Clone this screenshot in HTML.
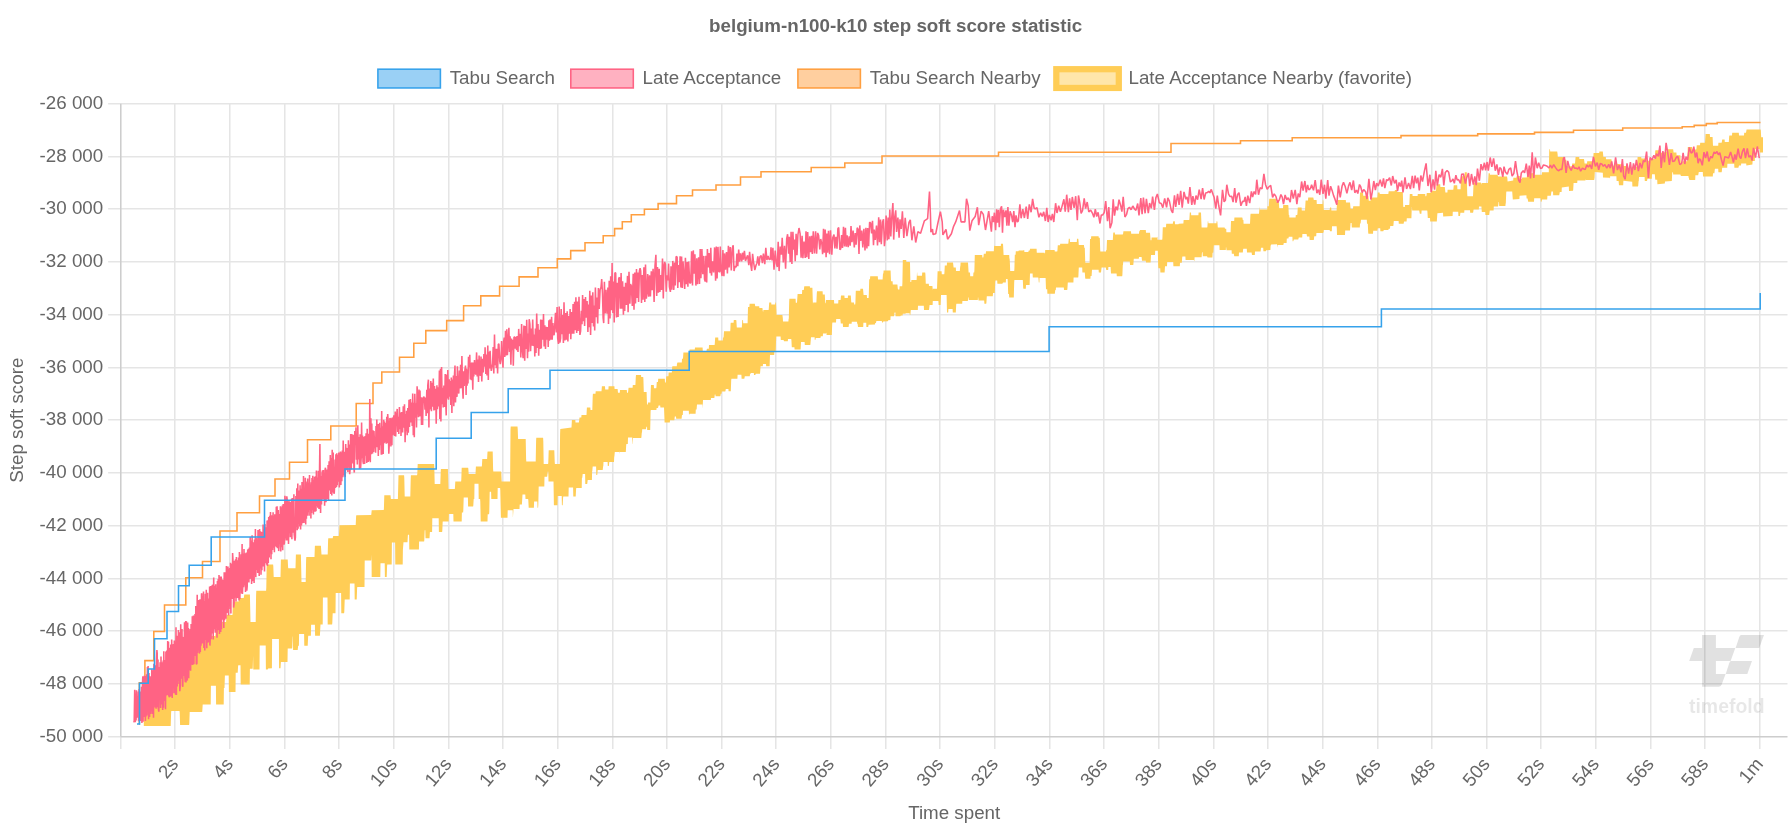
<!DOCTYPE html>
<html><head><meta charset="utf-8"><title>belgium-n100-k10 step soft score statistic</title>
<style>html,body{margin:0;padding:0;background:#fff;overflow:hidden}svg{display:block;will-change:transform;opacity:0.999}text{font-family:"Liberation Sans",sans-serif}</style>
</head><body>
<svg width="1792" height="832" viewBox="0 0 1792 832">
<rect width="1792" height="832" fill="#fff"/>
<path d="M120.781 103.8V749.1M174.781 103.8V749.1M229.781 103.8V749.1M284.781 103.8V749.1M338.781 103.8V749.1M393.781 103.8V749.1M448.781 103.8V749.1M502.781 103.8V749.1M557.781 103.8V749.1M612.781 103.8V749.1M666.781 103.8V749.1M721.781 103.8V749.1M775.781 103.8V749.1M830.781 103.8V749.1M885.781 103.8V749.1M939.781 103.8V749.1M994.781 103.8V749.1M1049.781 103.8V749.1M1103.781 103.8V749.1M1158.781 103.8V749.1M1213.781 103.8V749.1M1267.781 103.8V749.1M1322.781 103.8V749.1M1377.781 103.8V749.1M1431.781 103.8V749.1M1486.781 103.8V749.1M1540.781 103.8V749.1M1595.781 103.8V749.1M1650.781 103.8V749.1M1704.781 103.8V749.1M1759.781 103.8V749.1M108.1 736.781H1787.5M108.1 683.781H1787.5M108.1 630.781H1787.5M108.1 578.781H1787.5M108.1 525.781H1787.5M108.1 472.781H1787.5M108.1 419.781H1787.5M108.1 367.781H1787.5M108.1 314.781H1787.5M108.1 261.781H1787.5M108.1 208.781H1787.5M108.1 156.781H1787.5M108.1 103.781H1787.5" stroke="rgba(0,0,0,0.1)" stroke-width="1.5625" fill="none"/>
<path d="M120.781 103.8V736.6M120.6 736.781H1787.5" stroke="rgba(0,0,0,0.1)" stroke-width="1.5625" fill="none"/>
<g id="wm" fill="rgba(0,0,0,0.118)">
<path d="M1702.1 634.9H1715.9V648H1735.3L1730.6 661H1715.9V673.9H1725.6L1721.6 684.8Q1720.8 686.8 1718.6 686.8H1702.1V661H1689.2L1693.8 648H1702.1Z"/>
<path d="M1741.2 634.9H1764L1759.2 648H1735.6L1739.2 637.2Q1740 634.9 1741.2 634.9Z"/>
<path d="M1731 661H1752L1747.3 673.9H1725.7L1729.2 663.2Q1730 661 1731 661Z"/>
<text x="1689" y="712.6" font-weight="bold" font-size="20" textLength="75.6" lengthAdjust="spacingAndGlyphs" fill="rgba(0,0,0,0.095)">timefold</text>
</g>
<g fill="none" stroke-linejoin="bevel">
<path d="M143.8 716L146.5 716L146.7 713L147.1 700L153.5 700L153.9 690L160.3 690L160.7 683.1L160.9 681.5L166.5 681.5L166.7 679.9L167.1 673L172.7 673L172.9 672.5L173.3 665.5L179.1 665.5L179.5 658.5L179.7 658L185.3 658L185.7 652.7L185.9 651.5L191.5 651.5L191.7 650.3L192.1 645L197.7 645L197.9 644.8L198.3 641.5L204.1 641.5L204.5 638.2L204.7 638L209.9 638L210.5 636L215.3 636L215.5 634.5L215.9 629L220.7 629L221.1 622.9L221.3 622L225.9 622L226.1 621.7L226.5 615L232.5 615L232.9 601.6L238.7 601.6L239.1 598.7L239.3 598L243.7 598L243.9 597.3L244.3 594.4L249.9 594.4L250.5 622L255.7 622L256.1 594.7L256.3 590.8L266.1 590.8L266.3 587.5L266.7 564.5L273.1 564.5L273.3 566.1L273.7 577L280.5 577L280.9 559.5L287.7 559.5L288.1 567.2L288.3 568.2L295.5 568.2L295.9 554.5L300.9 554.5L301.5 582L305.7 582L306.1 560.1L306.3 557L314.5 557L314.9 545.8L320.9 545.8L321.5 554.5L327.7 554.5L328.1 540.3L328.3 538.2L332.7 538.2L333.1 536.3L333.3 536L338.9 536L339.5 525.2L355.7 525L356.1 516.5L356.3 515.2L371.1 515L371.3 514.4L371.7 510.2L383.7 510L383.9 509.1L384.3 495.2L390.5 495.2L390.9 499L397.9 499L398.5 475.2L404.1 475.2L404.3 477.9L404.7 496.5L410.3 496.5L410.7 479.2L410.9 475.2L417.1 475.2L417.3 473.8L417.7 464L434.1 464L434.3 466.5L434.7 484L440.3 484L440.7 471.8L440.9 469L447.9 469L448.5 489L454.7 489L454.9 488.5L455.3 481.5L461.1 481.5L461.3 479.8L461.7 467.8L468.1 467.8L468.3 468.5L468.7 474L475.5 474L475.9 466.5L481.7 466.5L481.9 466L482.3 459L487.1 459L487.5 452L487.7 451.5L492.7 451.5L493.1 469L493.3 471.5L501.1 471.5L501.3 472.7L501.7 481.5L510.1 481.5L510.5 429.9L510.7 426.5L517.5 426.5L517.7 428.8L518.1 439L525.7 439L526.1 458.7L526.3 461.5L535.7 461.5L536.1 440.7L536.3 437.8L543.1 437.8L543.3 441L543.7 464L548.1 464L548.3 462.3L548.7 450.2L554.3 450.2L554.7 461.4L554.9 464L559.7 464L560.1 433.4L560.3 429L571.5 427.5L571.9 420L575.3 420L575.5 422.4L578.9 422.4L579.5 417.4L581.3 417.4L581.5 415L586.5 415L586.9 407.5L590.3 407.5L590.5 410L592.3 410L592.7 396.8L592.9 393.8L595.5 393.8L595.7 391.2L601.5 391.2L601.9 386.3L605 386.2L605.2 389.6L608.4 389.6L608.6 386.2L614.4 386.2L614.6 388.9L617.6 388.9L618 392.7L619.8 392.7L620 390L626.8 390L627 392.7L628 392.7L628.6 387.7L632.6 387.7L632.8 385L635.4 385L635.8 376.9L636 375L641 375L641.2 377.1L643.2 377.1L643.4 378.9L643.8 392.1L646.6 392.1L647 404.6L647.8 404.6L648 402.5L650.4 402.5L650.8 388.3L651 385L653.8 385L654 388.2L656.2 388.2L656.4 387.4L656.8 381.9L658 381.9L658.2 378.8L664.8 378.8L665 382.5L665.8 382.5L666.2 377L666.4 376.3L668.4 376.3L668.6 372.5L671.8 372.5L672.2 367L672.4 366.2L676.8 366.2L677 363.4L677.2 363.4L677.4 362.5L681.8 362.5L682 358.8L682.8 358.8L683 358.4L683.4 352.5L689 352.5L689.6 349.4L694.8 349.4L695 347.5L702.6 347.5L702.8 351.3L706.4 351.3L706.8 349.2L707 348.8L708.8 348.8L709 345L714.6 345L714.8 343.6L715.2 337.5L718.2 337.5L718.4 340.4L722.8 340.4L723 337.5L723.6 337.5L724 331.2L730.2 331.2L730.4 329L730.6 323.4L730.8 322.7L733.6 322.7L733.8 320L736.2 320L736.4 320.9L736.8 327.5L741.8 327.5L742.2 320.9L742.4 320L743 320L743.2 323.2L747.6 323.2L748 307L749.4 307L749.6 303.8L754.8 303.8L755.2 305.9L755.4 306.2L759.2 306.2L759.4 308.1L762.4 308.1L762.8 311.1L763 311.8L763.2 311.8L763.4 310L768.6 310L768.8 308.6L769.2 302.5L771.2 302.5L771.4 304.5L775.2 304.5L775.4 302.5L776 302.5L776.6 315L782.4 315L782.8 318L783 321.4L788.4 321.4L788.6 318.8L788.8 318.8L789.2 301.2L789.4 298.8L795.6 298.8L795.8 302.7L797 302.7L797.6 294L802 294L802.2 290L803.8 290L804.2 286.7L804.4 286.2L809.8 286.2L810 287.7L812.4 287.7L812.8 300.9L813 304L813.2 302.5L816.4 302.5L816.8 293.4L817 291.2L822.6 291.2L822.8 294.5L824.8 294.5L825.2 302.1L825.4 303.2L825.8 303.2L826 300L834 300L834.2 303.5L838.2 303.5L838.4 300L840.6 300L841 295.5L844.4 295.5L844.6 298.1L847.8 298.1L848 295.5L850.8 295.5L851.2 301.6L851.4 302.5L854 302.5L854.2 304.5L855.2 304.5L855.4 302.8L855.8 290.8L860.2 290.8L860.4 288.8L863 288.8L863.6 295L866.8 295L867 298L868.6 298L868.8 294.5L869.2 279.3L870 279.3L870.2 276.2L877.8 276.2L878 279.4L882.6 279.4L883 273.6L883.4 273.6L883.6 270.5L890.6 270.5L891 281.2L892.6 281.2L892.8 284.4L897.4 284.4L897.8 288.5L898 289.4L899.4 289.4L899.6 286.2L902.2 286.2L902.4 283L902.8 260L906.2 260L906.4 261.9L909.8 261.9L910 263.1L910.4 281.9L911.2 281.9L911.4 280L916.6 280L917 272.5L917.2 272.5L917.4 275.8L922 275.8L922.2 272.5L925.2 272.5L925.4 273.9L925.8 283.8L928.8 283.8L929 286L932.4 286L932.8 290.1L933 288.8L937 288.8L937.6 271.2L941.6 271.2L941.8 274.2L944.2 274.2L944.4 273.2L944.8 265.5L946.8 265.5L947 262.5L953 262.5L953.6 267.5L955.8 267.5L956 271L959.8 271L960.2 266.6L960.4 266L960.6 262.5L968 262.5L968.6 272.5L970 272.5L970.2 276.3L973.2 276.3L973.4 272.5L974.2 272.5L974.4 270.3L974.8 255L982.2 255L982.4 257.6L983.2 257.6L983.4 257.1L983.8 253.8L985.8 253.8L986 251.2L993.8 251.2L994.2 244.7L994.4 246.1L1000.8 246.1L1001 243.8L1003 243.8L1003.6 255L1009.2 255L1009.4 258.5L1009.6 258.5L1009.8 260.8L1010.2 271L1014.2 271L1014.4 268.9L1014.8 254.7L1015.6 254.7L1015.8 251.2L1018.4 251.2L1018.8 250.6L1023.4 250.5L1023.8 250L1024.2 250L1024.4 251.9L1028.2 251.9L1028.4 251.7L1028.8 250.6L1029.8 250.6L1030 248.8L1036.6 248.8L1036.8 252.7L1044.6 252.7L1045 254L1045.2 250L1054.6 250L1054.8 251.6L1057.2 251.6L1057.4 250.8L1057.8 245.3L1060 245.3L1060.2 243.8L1068.2 243.8L1068.4 243.1L1068.8 238.8L1069.8 238.8L1070 242.1L1076.8 242.1L1077 238.8L1078.2 238.8L1078.4 239.5L1078.8 245L1084 245L1084.2 247.7L1084.8 247.7L1085.2 260.9L1085.4 262.7L1089.6 262.7L1090 239L1091 239L1091.2 236.2L1098.6 236.2L1098.8 237.7L1099.8 237.7L1100.2 249.7L1100.4 251.4L1106 251.4L1106.2 250L1106.6 250L1107 240L1112.8 240L1113.2 233.4L1113.4 232.5L1114.8 232.5L1115 234.4L1122.8 234.4L1123.2 233.3L1123.4 231.2L1131 231.2L1131.2 233.7L1139 233.7L1139.2 231.2L1139.6 231.2L1140 230L1145.8 230L1146 232.7L1150 232.7L1150.6 240.2L1151.4 240.2L1151.6 237.5L1157 237.5L1157.4 236.6L1157.6 239.7L1162.2 239.7L1162.4 238.2L1162.8 227.2L1166 227.2L1166.2 223.8L1172.8 223.8L1173.2 221.6L1173.4 221.2L1174.8 221.2L1175 224.3L1178.4 224.2L1178.8 223.7L1183.4 223.6L1183.6 220.2L1183.8 220L1189.2 220L1189.4 219.1L1189.8 212.5L1191 212.5L1191.2 215.2L1198.4 215.2L1198.6 212.5L1201 212.5L1201.6 227.5L1207.2 227.5L1207.4 226.7L1207.8 221.2L1208.2 221.2L1208.4 223.3L1216.4 223.3L1216.6 221.2L1217.2 221.2L1217.4 222L1217.8 227.5L1224.6 227.5L1225 228.8L1226.2 228.8L1226.4 232.2L1230.6 232.2L1231 220.9L1234.2 220.9L1234.4 217.5L1242.2 217.5L1242.4 217.8L1242.8 220L1243.4 220L1243.6 223.7L1250 223.7L1250.4 215.3L1250.6 213.8L1259 213.8L1259.6 206.2L1259.8 209.6L1267.2 209.6L1267.4 206.2L1268.8 206.2L1269.2 199.7L1269.4 198.8L1276.4 198.8L1276.6 202L1278.8 202L1279.2 207.5L1279.4 208.3L1283 208.3L1283.2 205L1288.2 205L1288.4 206.3L1288.8 215L1289.2 215L1289.4 217.6L1295.6 217.6L1295.8 215L1297.2 215L1297.4 214.1L1297.8 207.5L1301.6 207.5L1301.8 210.6L1305 210.6L1305.6 200.6L1308 200.6L1308.2 197.5L1313.2 197.5L1313.4 197.8L1313.8 200L1316.6 200L1316.8 203.9L1322.6 203.9L1322.8 200L1323.2 200L1323.4 201.3L1323.8 210L1329.6 210L1330 207.5L1331.2 207.5L1331.4 210.6L1336.6 210.6L1337 203.1L1337.6 203.1L1337.8 200L1345.8 200L1346 202.4L1350 202.4L1350.6 208.7L1353 208.7L1353.2 206.2L1359.6 206.2L1360 192.5L1363 192.5L1363.2 195.7L1368.2 195.7L1368.4 196.3L1368.8 200.7L1370.6 200.7L1370.8 197.5L1377.2 197.5L1377.4 196.9L1377.8 192.5L1379.6 192.5L1379.8 194L1388.2 194L1388.4 193.8L1388.6 191.7L1388.8 191.2L1394.6 191.2L1395 190L1397 190L1397.2 192.1L1402.8 192.1L1403.2 205.2L1403.4 207.1L1404.8 207.1L1405 205L1409.2 205L1409.4 203.6L1409.8 194.1L1412.4 194.1L1412.6 196L1417.6 196L1417.8 194.1L1425.2 194.1L1425.4 196.2L1426.2 196.2L1426.4 195.7L1426.8 192.9L1430.6 192.9L1430.8 190.8L1436 190.8L1436.6 184.2L1440.2 184.2L1440.4 186.9L1444.8 186.9L1445.4 192.4L1447.4 192.4L1447.6 189.7L1453.2 189.7L1453.4 189.1L1453.8 185.3L1457.2 185.3L1457.4 189.3L1460.6 189.3L1461 176.2L1464.6 176.2L1464.8 172.2L1466.8 172.2L1467.2 193.3L1467.4 196.3L1473 196.3L1473.6 182.6L1480.8 182.6L1481.4 184.7L1481.6 183.1L1488 183.1L1488.6 173.3L1489.8 173.3L1490 174.8L1497.6 174.8L1497.8 176.1L1498 176.2L1498.2 176.6L1507 176.6L1507.4 178.5L1507.6 181.4L1513.2 180.5L1513.4 177.8L1516.2 177.7L1516.4 177.6L1516.8 176.1L1519.8 176.1L1520 179L1521.8 179L1522.2 177.5L1526.8 177.4L1527 174.4L1527.2 174.4L1527.8 173.3L1532.6 173.3L1532.8 173.1L1533 172.5L1533.2 174.7L1541.8 174.7L1542 172.2L1548.8 172.2L1549.2 152.1L1549.4 149.2L1550 149.2L1550.2 151.6L1557.2 151.6L1557.6 154L1557.8 156.9L1564.4 156.9L1564.6 159.8L1566.2 159.8L1566.4 160.6L1566.8 166.3L1572 166.3L1572.2 163.4L1575 163.4L1575.6 156.9L1579.2 156.9L1579.4 159.1L1584 159.1L1584.6 163.5L1587 163.5L1587.2 161.3L1593 161.3L1593.6 152.9L1599.2 152.9L1599.4 151.4L1602.8 151.4L1603.4 156.9L1605.8 156.9L1606 159.3L1611.4 159.3L1611.6 160.1L1612 165.8L1613.8 165.8L1614 163.4L1623.4 164.5L1623.6 166L1627.2 166L1627.4 166.3L1627.8 168.2L1631.4 168.2L1631.6 166.7L1637 166.7L1637.6 156.9L1641.2 156.9L1641.4 158.5L1646.4 158.5L1646.6 158.8L1647 160.7L1650 160.7L1650.2 159.1L1654.8 159.1L1655.2 151.4L1655.4 150.3L1659.6 150.3L1659.8 152.9L1666.4 152L1666.6 149.3L1673 149.2L1673.2 149.6L1673.6 152.5L1676.4 152.5L1676.6 155.3L1680.4 155.3L1680.8 163L1681 164.1L1682.2 164.1L1682.4 161.3L1687.2 161.3L1687.4 159.5L1687.8 147L1692 147L1692.2 149.6L1696.2 149.6L1696.4 149.1L1696.8 145.3L1700 145.3L1700.2 142.7L1705 142.7L1705.6 133.9L1709.8 133.9L1710 136.9L1712.6 136.9L1713 145.7L1718.2 145.7L1718.4 142.7L1721.6 142.7L1721.8 142.3L1722.2 139.4L1724.6 139.4L1724.8 142L1728.8 142L1729.2 136.2L1729.4 135.4L1732 135.4L1732.2 132.8L1738.8 132.8L1739 135.6L1744 135.6L1744.2 132.8L1746 132.8L1746.6 129.5L1760.6 129.5L1760.8 130.5L1761.2 137.2L1763 137.2L1763 152.5L1759.8 152.5L1759.6 149.1L1755.4 149.1L1755.2 150.6L1754.8 161.1L1752.6 161.1L1752.4 164.5L1746.4 165.5L1746.2 163.5L1741.2 163.5L1741 165.6L1739 165.6L1738.4 167.8L1734.4 167.8L1734.2 163.8L1727.4 163.8L1727.2 167.8L1722.2 167.8L1721.8 171.6L1721.6 172.2L1718.4 172.2L1718.2 168.8L1715 168.8L1714.8 169.4L1714.4 173.2L1713 173.2L1712.8 176.6L1703 176.6L1702.8 171.9L1698.8 171.9L1698.2 175.2L1695.4 175.2L1695.2 179.9L1689.4 179.9L1689.2 179.6L1688.8 177.7L1688.6 177.7L1688.4 175.9L1681 175.9L1680.8 175.5L1680.6 175.6L1680.4 174.4L1673.2 174.4L1673 172.2L1672.4 172.2L1672.2 173.3L1671.8 180.9L1665 181.4L1664.8 183.6L1657.4 184.2L1657.2 179.7L1655.4 179.7L1655.2 179.1L1654.8 174.3L1652 174.3L1651.8 178.8L1647.6 178.8L1647.4 179.1L1647 181L1644.8 181L1644.6 176.9L1639 176.9L1638.8 181L1638.6 181L1638.2 185.7L1638 186.4L1632.4 186.4L1632.2 181.8L1623.4 180.7L1623.2 185.3L1619 185.3L1618.6 181L1616.6 181L1616.4 176.3L1610.4 176.3L1610.2 175.8L1610 178.9L1609.8 177.7L1603 177.4L1602.8 172.7L1594.8 171.9L1594.6 177.4L1594.2 179.9L1585.8 179.9L1585.6 179L1585.4 180.6L1577.4 180.6L1577.2 183.1L1573.6 183.1L1573.2 189.8L1573 190.8L1569 191L1568.8 186.5L1561.8 187.4L1561.6 191.9L1559.8 191.9L1559.2 195.2L1553.2 195.2L1553 191.4L1551.4 191.4L1550.8 195.7L1547.4 195.7L1547.2 199.5L1542 199.5L1541.6 201.4L1541.4 201.7L1540.8 201.7L1540.6 198.2L1534.2 198.2L1534 201.7L1528.2 201.7L1527.6 198.4L1526.6 198.4L1526.4 195.2L1519.6 195.8L1519.4 198.9L1512.8 199.5L1512.2 191.5L1506.4 191.5L1506.2 193L1505.8 203.5L1505.6 203.5L1505.4 206.1L1499.2 206.1L1499 202L1498.6 202L1498.2 205.8L1498 206.4L1493.8 206.4L1493.6 210.5L1489.8 210.5L1489.2 214.9L1485.4 214.9L1485.2 212L1481.8 212L1481.4 206.5L1479 206.5L1478.8 209.4L1473.6 209.4L1473.2 212.3L1473 212.7L1470.2 212.7L1470 210.2L1464.4 210.2L1464.2 212.7L1460.4 212.7L1460 216L1458.4 216L1458.2 211.7L1452.8 211.7L1452.6 216L1443.2 216.6L1443 212.8L1437.4 213.2L1436.8 221.4L1430.2 221.4L1430 218.1L1427.8 218.1L1427.4 211.5L1427.2 210.5L1421.6 210.5L1421.4 213.8L1419.8 213.8L1419.2 210.5L1412.2 210.5L1412 207.3L1411.8 207.3L1411.4 218.2L1406.8 218.2L1406.6 221.4L1404.2 221.4L1404 221.7L1403.6 223.8L1398.8 223.8L1398.6 221.1L1393.8 221.1L1393.4 225.5L1393.2 226.1L1390.2 226.1L1390 228.8L1388.8 228.8L1388.4 229.8L1388.2 230L1383.8 230L1383.4 231.1L1383.2 231.2L1380.4 231.2L1380.2 228.2L1377.8 228.2L1377.4 230.3L1377.2 230.7L1373.2 230.7L1373 233.8L1368.4 233.8L1368.2 232.5L1367.8 223.8L1367 223.8L1366.8 219.8L1361 219.8L1360.6 223.5L1360 223.5L1359.8 227.5L1351.8 227.5L1351.6 223.1L1350.6 223.1L1350 230.6L1345.2 230.6L1345 235L1337 235L1336.8 228.2L1336.6 226.3L1332 226.3L1331.8 231.2L1330 231.2L1329.6 230L1323.8 230L1323.6 232.3L1323.4 232.1L1323.2 232.9L1316.4 232.9L1316.2 236.2L1314.4 236.2L1314.2 236.7L1313.8 240L1309.6 240L1309.4 236.4L1307 236.4L1306.6 233.9L1302.4 233.9L1302.2 237.5L1298.8 237.5L1298.4 239.1L1298.2 239.4L1293.8 239.4L1293.4 241L1293.2 241.2L1292.6 241.2L1292.4 236.7L1288.8 236.7L1288.4 238.4L1288.2 238.6L1286.8 238.6L1286.6 243.1L1283.8 243.1L1283.4 244.8L1283.2 245L1277.6 245L1277.2 247.8L1277 244.3L1271.2 244.4L1270.8 245.5L1270.6 245.5L1270.4 250L1266.2 250.2L1265.8 251.2L1263.4 251.2L1263.2 247.7L1261 247.7L1260.6 251.4L1255 251.4L1254.8 255L1252 255L1251.6 252.5L1247 252.5L1246.8 248.7L1243.4 248.7L1243.2 249.1L1242.8 252.4L1239 252.4L1238.8 256.2L1234.4 256.2L1234.2 255.9L1233.8 253.8L1231.8 253.8L1231.6 250.3L1226.6 250.3L1226 246.5L1225.8 250L1219.6 250L1219.4 245.2L1213.8 245.2L1213.4 251.7L1213.2 252.7L1212.6 252.7L1212.4 257.5L1207.6 257.5L1207 256.2L1202.8 256.2L1202.6 252.3L1202 252.3L1201.6 257.3L1194.6 257.3L1194.4 261.2L1194.2 261.1L1193.8 260L1185.6 260L1185.4 256.6L1182.4 256.6L1182.2 257.4L1181.8 262.8L1180 262.8L1179.8 266.2L1173.4 266.2L1173.2 261.9L1167.2 261.9L1167 266.2L1165 266.2L1164.6 272.5L1160.4 272.5L1160.2 268.2L1158.4 268.2L1158.2 266L1157.8 250.7L1155.2 250.7L1155 255L1151 255L1150.6 262.5L1146 262.5L1145.8 260.7L1142 260.7L1141.6 256.9L1139 256.9L1138.8 258.8L1133.8 258.8L1133.4 264.2L1133.2 265L1130 265L1129.8 261.5L1123.2 261.5L1123 265L1122.8 265L1122.4 274.8L1122.2 276.2L1116.8 276.2L1116.6 273.4L1111 273.4L1110.6 267.1L1108.4 267.1L1108.2 270L1106.4 270L1106.2 269.7L1105.8 267.5L1101.6 267.5L1101 272.5L1098.8 272.5L1098.6 269.7L1092 269.7L1091.6 276L1090.6 276L1090.4 278.8L1085.4 278.8L1085.2 278L1084.8 272.5L1082.4 272.5L1082.2 267.6L1078.8 267.6L1078.4 276.3L1078.2 277.6L1073.6 277.6L1073.4 282.5L1067.8 282.5L1067.4 289.1L1067.2 290L1064 290L1063.8 287.6L1056 287.6L1055.8 290L1055.4 290L1055.2 290.5L1054.8 293.8L1047.4 293.8L1047.2 289.3L1046 289.3L1045.6 278.1L1039.6 278.1L1039.4 282.5L1038.8 282.5L1038.4 278.1L1038.2 277.5L1032.8 277.5L1032.6 273.6L1030 273.6L1029.6 284.9L1026 284.9L1025.8 288.8L1023.4 288.8L1023.2 287.7L1022.8 280L1014.4 280L1014.2 282.2L1013.8 297.5L1009.2 297.5L1009 294.1L1008.2 294.1L1007.8 281.9L1007.6 279.1L1006 279.1L1005.8 282.5L1003 282.5L1002.4 283.8L997.4 283.8L997.2 280.5L995.4 280.5L995.2 282L994.8 293L993 293L992.8 296.2L986.8 296.2L986.4 302.8L986.2 303.8L984.4 303.8L984.2 300.5L978.6 300.5L978 296.7L977.8 300L968.8 300L968.6 297.2L968.4 297.2L968.2 297.7L967.8 301L962.4 301L962.2 303.8L956.4 303.8L956.2 304.8L955.8 312.5L952.8 312.5L952.6 308.9L948.4 308.9L948.2 312.5L947 312.5L946.6 295L941 295L940.6 305L938.6 305L938.4 301.1L932.8 301.1L932.6 305L929.6 305L929 310L924 310L923.8 305.8L918 305.8L917.8 310L910.8 310L910.4 314.4L910.2 315L909.8 315L909.6 313.2L905.8 313.2L905.4 313.8L902.8 313.8L902.6 315.6L900.8 315.6L900.4 316.2L895.6 316.2L895.4 312.5L894.6 312.5L894 316.3L890.6 316.3L890.4 320L888.2 320.2L887.8 321.2L883.2 321.4L882.8 322.5L882 322.5L881.8 320.9L876.4 320.9L876 322.7L875.8 322.9L875.2 322.9L875 324.5L868.6 324.7L868.2 327L866.4 327L866.2 322.8L863.4 322.8L863.2 327L858 327L857.6 323.8L857.2 323.8L857 321.8L851.8 321.8L851.6 323.8L849 323.8L848.6 327L843 327L842.8 323.5L840.8 323.5L840.4 319.6L840.2 319L836.2 319L836 322.5L832.4 322.5L832.2 324.1L831.8 335L826.6 335L826.4 332.4L826 333.5L823 333.6L822.8 336.2L820.8 336.2L820.4 337.9L820.2 338.1L815.8 338.1L815.4 339.8L815.2 340L814.8 340L814.6 337.3L811 337.3L810.4 344.4L810.2 345L804.8 345L804.6 342.1L801 342.1L800.6 349.5L794.6 349.5L794.4 347.3L791.8 347.3L791.4 340.1L791.2 339.1L788 339.1L787.8 341.2L784 341.2L783.6 340L780.8 340L780.6 336.6L776.2 336.6L775.8 348.8L775.6 351.6L774.4 351.6L774.2 355L770 355L769.6 366.2L766.2 366.2L766 364L763 364L762.8 366.2L760.6 366.2L760 373.8L755.8 373.8L755.4 374.8L755.2 375L754 375L753.8 372.9L750.8 372.9L750.4 374L750 374.2L749.8 376.2L744.8 376.2L744.4 378.4L744.2 378.8L741.6 378.8L741.4 374.8L737.6 374.8L737.4 378.8L731.4 378.8L731.2 380.3L730.8 391.2L728.6 391.2L728.4 389L725.8 389L725.4 391.2L725.2 391.5L721.8 391.5L721.6 393.8L720.8 393.8L720.4 395.9L720.2 396.2L715.6 396.2L715.4 394.4L714.8 394.4L714.4 397.7L714.2 398.1L711 398.1L710.8 400L703 400L702.6 408.7L702.4 404.6L697 404.6L696.6 409.6L695.8 409.6L695.6 413.8L689.6 413.8L689 415L688.8 410.7L683 410.7L682.8 415L682 415L681.6 418.7L676.2 418.8L676 416.4L674.8 416.4L674.4 419.7L674.2 420.2L670 420.2L669.8 422.5L664.6 422.5L664 407.5L660.4 407.5L660.2 405.5L658.6 405.5L658 408L656.6 408L656.4 410L650.8 410L650.6 411.2L650.2 430L647.2 430L647 426.7L646.4 426.7L646 429.1L645.8 429.2L642.2 429.2L642 432.5L641.8 432.5L641.4 437.3L641.2 438L633 438L632.6 444L632.4 444L632.2 437.6L628 437.6L627.8 444L626.4 444L626.2 445L625.8 452L619.8 452L619.6 453.9L619.4 451.3L619.2 451.9L614.8 451.9L614.4 456.3L614.2 456.9L614 462L609.4 462L609.2 462.5L608.8 466L607.8 466L607.6 462L603.5 462L603.3 466L603.1 466.5L602.7 470L597.7 470L597.3 474.4L597.1 475L596.3 475L596.1 466.5L592.7 466.5L592.3 470.9L592.1 471.5L591.9 480L587.7 480L587.3 483.5L587.1 484L585.3 484L585.1 474.1L582.7 474.1L582.3 477.6L582.1 478.1L581.9 478.1L581.7 488L576.3 488L576.1 489.1L575.7 496.5L573.3 496.5L573.1 487.4L568.7 487.4L568.5 496.5L563.3 496.5L563.1 497.6L562.7 505.2L561.9 505.2L561.7 496L557.7 496L557.5 505.2L553.9 505.2L553.5 481.5L548.5 481.5L548.3 471.7L547.7 471.7L547.3 476.1L547.1 476.7L544.5 476.7L544.3 486.5L538.7 486.5L538.3 505.1L538.1 507.8L537.5 507.8L537.3 501.5L534.1 501.5L533.9 507.8L528.7 507.8L528.3 500.1L528.1 499L525.5 499L525.3 494.6L522.5 494.6L521.9 504.6L519.7 504.6L519.5 509L513.5 509L512.9 517.8L512.7 510.3L507.7 510.3L507.5 517.8L500.9 517.8L500.3 490.2L500.1 487.9L497.7 487.9L497.5 499L491.3 499L491.1 491.8L489.7 491.8L489.3 511.5L489.1 514.3L487.7 514.3L487.5 521.5L480.7 521.5L480.3 501.8L480.1 499L478.7 499L478.5 483.7L474.5 483.7L474.3 499L473.7 499L473.3 505.6L473.1 506.5L468.1 506.5L467.9 497.4L463.7 497.4L463.3 510.6L463.1 512.4L461.9 512.4L461.7 521.5L453.5 521.5L453.3 514L448.9 514L448.7 521.5L442.7 521.5L442.3 530.7L442.1 532L438.9 532L438.7 518.3L432.3 518.3L432.1 532L429.9 532L429.5 538.2L425.5 538.2L425.3 530.3L424.7 530.3L424.3 540.2L424.1 541.6L419.1 541.6L418.9 549.5L409.3 549.5L409.1 534.7L407.9 534.7L407.5 542.2L403.5 542.2L402.9 549.7L402.7 564.5L395.3 564.5L395.1 542.4L391.9 542.4L391.7 564.5L387.3 564.5L387.1 566.1L386.7 577L384.9 577L384.7 563.3L380.5 563.3L380.3 577L371.7 577L371.5 554.4L371.3 559.4L371.1 560.6L364.7 560.6L364.5 587L357.3 587L357.1 588.6L356.7 599.5L354.7 599.5L354.5 583.6L349.9 583.6L349.7 599.5L344.7 599.5L344.3 611.5L344.1 613.2L341.3 613.2L341.1 593L335.7 593L335.5 613.2L332.7 613.2L332.3 623.1L332.1 624.5L327.7 624.5L327.5 597.6L322.9 597.6L322.7 624.5L320.5 624.5L319.9 635.8L315.1 635.8L314.9 624.7L311.1 624.7L310.9 635.8L308.3 635.8L308.1 637L307.7 645.8L304.3 645.8L304.1 634.1L299.1 634.1L298.9 645.8L298.3 645.8L298.1 646.3L297.7 650L293.1 650L292.9 636.4L292.7 636.4L292.3 646.9L292.1 648.4L287.7 648.4L287.5 662L280.9 662L280.5 668.2L279.1 668.2L278.9 638.9L272.1 638.9L271.9 668.2L268.1 668.4L267.7 669.5L265.9 669.5L265.7 645.5L259.7 645.5L259.5 669.5L253.3 669.5L253.1 655.7L252.7 668.8L249.9 668.8L249.7 684.5L240.7 684.5L240.5 665.2L238.3 665.2L238.1 666.1L237.7 672.7L235.7 672.7L235.5 692L228.9 692L228.7 675.4L224.9 675.4L224.5 687.9L223.9 687.9L223.7 704.5L216.1 704.5L215.9 685.7L210.9 685.7L210.7 704.5L202.7 704.5L202.3 711.1L202.1 712L189.7 712L189.3 723.4L189.1 725L180.1 725L179.7 712.7L179.5 711L171.3 711L171.1 712.9L170.7 726L143.8 726Z" fill="#ffcd56" stroke="none"/>
<path d="M138.9 724H139.3V682.8H144.9V660.6H153.8V631.5H164.5V605H185.8V577.8H202.5V561.5H220V531H237V512.8H259.5V496H275V479H289.5V462.2H307.5V439.8H330.8V426H356.2V403.5H373V383H381.8V372H399.5V357.2H413.8V343.2H425.8V330.6H446.7V320.6H463.6V305.7H480.8V295.9H499.6V286.2H519.1V276.9H538V267.8H557.3V258.9H570.7V250.6H585V242.7H603.2V235.8H614.6V228.6H622.3V221.8H631.3V214.8H644.4V209.2H658.1V203.6H676.5V195.8H692.5V190H716V185H740.5V177H761V171.8H811.2V167.5H844.8V163H882V156H998.5V152.3H1171V143.5H1240.5V140.8H1292.2V137.8H1401V135.6H1477.7V133.9H1534.5V132.4H1573.5V130.2H1622.7V128H1682.2V126.7H1694.2V125.4H1706.3V123.6H1717.2V122.5H1760.5" stroke="#ff9f40" stroke-width="1.5625" stroke-linejoin="miter"/>
<path d="M133.8 722.4L134.2 720.9L134.7 689.8L135 696.9L135.3 722.3L135.7 695.6L136.1 720.5L136.5 690.2L137 717.8L137.4 696.1L137.8 717.8L138.3 691.6L138.6 721.2L139.1 689.1L139.6 719.6L140 692.7L140.3 721.1L140.7 691.4L141 716.9L141.5 686.7L141.9 723.1L142.3 689.4L142.8 676.4L143.1 721.8L143.5 677.5L143.9 717.1L144.2 675.7L144.6 713.2L145 682.1L145.4 720.9L145.8 676.1L146.1 716.5L146.5 674.2L146.9 715.5L147.4 667L147.8 711.8L148.1 666.1L148.6 719.3L149 672.9L149.3 714.3L149.6 716.9L150.1 676.3L150.5 714L150.8 707.3L151.3 711.1L151.8 669.2L152.3 713.9L152.6 709.6L153.2 670.2L153.5 717.8L153.9 663.7L154.4 704.4L154.9 669.7L155.2 707.5L155.6 665.2L156.1 708.8L156.5 662.2L156.9 650L157.2 653.3L157.6 707.3L158 659.4L158.3 708.1L158.8 711.7L159.3 667L159.7 699.9L160.1 662.2L160.6 708L161 656.4L161.5 704.6L162 665.9L162.3 662.2L162.7 710L163.2 660.5L163.5 707.8L163.8 651.2L164.3 697.7L164.7 701L165.1 660L165.5 709.2L165.9 651.6L166.4 695.6L166.8 650.5L167.3 695L167.7 641.1L168.2 695.2L168.5 641.7L168.8 695.5L169.2 696.7L169.6 696.9L170.1 647.8L170.4 696.4L170.8 644.4L171.2 696.3L171.7 639.5L172.2 698L172.5 645L173 687.1L173.4 644L173.9 693.3L174.3 640.5L174.8 687.1L175.2 644.6L175.5 694.7L176 627.2L176.4 695L176.9 639.9L177.3 686.6L177.6 635.7L178 684.1L178.4 630.1L178.8 681L179.3 632.3L179.8 691.2L180.3 685.8L180.7 624.2L181.1 678.7L181.5 639.7L182 629L182.5 685L182.8 686.8L183.2 637.9L183.6 637.3L184 676L184.5 622.3L184.9 677.4L185.3 682.1L185.7 620.9L186 682.5L186.4 621.2L186.8 670.7L187.3 680.6L187.7 622.5L188 675.2L188.4 628.1L188.7 678.3L189.2 630.6L189.7 670.2L190.1 629.1L190.6 670.8L191.1 624L191.5 664.6L191.8 663.7L192.3 616.2L192.6 664.9L193.1 662.3L193.4 615.6L193.9 664.3L194.3 615.7L194.7 656L195 613.9L195.4 654.4L195.8 606L196.3 664.3L196.9 663.5L197.2 594.7L197.6 652.9L198 607.7L198.5 600.1L199 647.6L199.5 653.6L200 599.2L200.3 651.9L200.7 607.4L201 645.7L201.5 593.6L201.8 593.9L202.2 643.6L202.6 596L203.1 642.7L203.5 591.4L203.9 648.1L204.4 600.9L204.8 650.5L205.3 593.8L205.8 640.1L206.3 589.7L206.8 648.3L207.2 599.5L207.6 592.8L207.9 641.9L208.3 642.3L208.8 598.4L209.3 636.9L209.6 586.4L209.9 645.6L210.4 634.8L210.7 585.9L211.1 639.3L211.5 595.8L211.8 633.4L212.2 585.5L212.7 584.9L213.2 639.5L213.7 577.5L214.1 629.5L214.4 588.4L214.9 585.7L215.3 632.8L215.7 584.2L216.1 626.4L216.6 588.2L217 637.8L217.4 581L217.9 630.2L218.2 579.1L218.6 625.1L219 575.1L219.5 634.1L219.9 576.5L220.2 584.4L220.7 631.9L221.2 576.4L221.5 629.3L221.9 579.3L222.4 619.6L222.9 613.7L223.4 579.7L223.8 628L224.2 572.2L224.6 620.2L225.1 578.3L225.5 572.2L226 618.8L226.4 565.9L226.7 612.9L227.2 574.6L227.6 612.8L228 566.4L228.5 615.6L228.9 569L229.4 603.7L229.7 568.1L230.2 609.1L230.5 562.8L230.9 613.4L231.2 571.1L231.7 563.7L232.2 599L232.6 553L233 560.7L233.6 607.6L234.1 603.2L234.4 561L234.9 597.7L235.2 560.7L235.7 559.6L236 601.5L236.4 557.1L236.8 592.7L237.1 560.3L237.6 598.1L238 592.8L238.5 557.4L239 600.4L239.4 551.9L239.9 599.1L240.2 560.7L240.6 589.6L241.1 554.3L241.6 593.4L242.1 543.9L242.4 593.9L242.8 585.8L243.3 553.5L243.6 587.3L244 548.9L244.6 585.4L245 553.3L245.5 591.9L245.9 585.5L246.3 552.6L246.8 590.8L247.2 586.5L247.7 549.6L248.1 581.9L248.5 548.8L248.9 582.5L249.4 547.6L249.8 579.1L250.2 537L250.6 578.6L251.1 540.5L251.6 583.9L252.1 535.3L252.5 581.3L253 542.3L253.4 575.2L253.8 543.9L254.1 583.1L254.5 539.6L255 575.1L255.4 529L255.8 577.2L256.3 537.7L256.8 569.9L257.3 539.7L257.7 573L258 530.1L258.4 569.2L258.8 537.6L259.2 576.1L259.6 528.9L260.1 568.4L260.6 531.2L261 574.8L261.5 531.9L261.9 570.3L262.3 533L262.8 564L263.1 524.5L263.5 566.4L264 529L264.5 571.4L264.9 523.9L265.4 563.1L265.9 527.2L266.3 561.8L266.7 564.7L267.1 520.4L267.5 566.1L267.9 520.2L268.3 563.1L268.7 517L269.2 557.6L269.7 515.7L270 553.5L270.5 512.1L271 559.3L271.3 515.3L271.7 554.3L272.2 515.3L272.6 550.1L273.1 512.2L273.4 547.7L273.9 515.9L274.4 552.3L274.8 514.3L275.3 516.3L275.8 546.6L276.3 506.7L276.7 547.3L277.1 506.2L277.5 548.2L278 543.3L278.3 510L278.7 551.1L279.1 546.1L279.5 514.1L279.9 544.1L280.4 506.2L280.8 551.6L281.3 507.3L281.8 547.3L282.3 505.6L282.7 550.2L283.2 503.9L283.6 538L284 544.6L284.4 543L284.9 495.8L285.4 502L285.9 536.4L286.3 540.5L286.8 496.3L287.3 500.7L287.7 540.5L288.1 501.8L288.5 543.9L289 500.8L289.4 533.2L289.9 502.1L290.3 537.3L290.7 503.6L291.1 532.2L291.5 498.7L291.9 539.2L292.3 497.9L292.8 532.7L293.1 501.4L293.5 528.6L293.9 494.3L294.2 534.3L294.6 538L295 540.7L295.4 537.3L295.9 496.1L296.4 526.8L296.8 488.3L297.2 530.3L297.8 483.4L298.1 528.7L298.6 490.5L299.1 523.4L299.5 492.2L299.8 526.4L300.1 485.3L300.6 529.6L301 488.8L301.5 525.4L302 481.9L302.4 523.3L302.9 489.1L303.2 521.1L303.5 476.1L304 523.1L304.5 489.4L304.9 520.4L305.3 477.7L305.7 524.4L306 481.5L306.4 518.8L306.8 483.6L307.3 515.7L307.7 478.5L308.2 512.2L308.6 482.8L309.1 515.8L309.5 474.9L310 510.1L310.5 484.6L310.9 518.6L311.3 482.3L311.6 513L312 478.1L312.4 510.3L312.8 475.8L313.4 514.5L313.8 479.7L314.2 511.7L314.6 476.8L315.1 511.8L315.5 476.3L316 511.2L316.4 470.6L316.8 506.3L317.3 477.4L317.8 507.8L318.3 470.7L318.6 477.3L319 509L319.4 478.7L319.9 444L320.2 478.7L320.6 512.9L321 476.1L321.5 504.6L322 473.2L322.5 470.5L323 499.5L323.4 469.9L323.9 498L324.3 473L324.6 505.7L325.1 469.5L325.5 467.8L326 502.2L326.5 469.6L326.9 499.1L327.2 470L327.6 497.1L328.1 465L328.5 500.3L329.1 461.3L329.4 462.2L329.8 490.5L330.3 454.9L330.8 494L331.3 457.9L331.8 495.5L332.2 449.8L332.6 492.5L333.2 452.5L333.7 492.1L334.2 493.8L334.7 484.4L335.1 459.5L335.5 488L335.9 454.3L336.5 487.1L336.8 453.2L337.2 485.3L337.7 454.8L338.2 481.7L338.8 452.4L339.3 487.4L339.9 480.1L340.4 451.6L340.9 485.1L341.3 452.2L341.8 481.2L342.3 450.5L342.9 477.3L343.2 440.5L343.6 475.4L344.2 451.8L344.7 472.1L345.2 477L345.7 444.1L346.3 470.3L346.8 449.1L347.3 448.2L347.9 472.1L348.4 440.2L348.9 467L349.3 444.6L349.7 474.2L350.1 469.3L350.7 433.9L351.3 469.4L351.7 434.2L352.2 435.3L352.6 442.4L353 463.6L353.4 434.7L353.9 467.5L354.3 472.6L354.8 431.1L355.4 443.2L356 427.3L356.4 459.8L356.9 433.8L357.3 464.6L357.8 425.2L358.4 459.4L359 437.1L359.5 469.1L360.1 434.3L360.6 468.4L361.2 457.4L361.6 422.4L362.1 458.3L362.5 435.4L363 461.6L363.5 464L364 436.7L364.6 463.9L365.1 435.9L365.5 455.7L366.1 433.3L366.7 462.9L367.2 428.8L367.6 452.8L368.2 461.9L368.7 433.8L369.3 460.8L369.8 399L370.3 462.3L370.9 418.2L371.4 454.2L371.8 423.4L372.2 449.9L372.6 453.6L373 430.2L373.6 452L374 431.1L374.6 446.7L375.1 445.8L375.6 452.8L376 425.9L376.4 447.1L376.8 419.4L377.3 447.2L377.8 424L378.3 456.1L378.8 424L379.3 450L379.7 422.7L380.3 445.2L380.8 427.8L381.3 454.7L381.7 411.1L382.1 454.4L382.8 426.2L383.2 454.1L383.7 419.7L384.1 443.2L384.6 421.6L385.2 442.6L385.7 423.1L386.2 443.8L386.8 416.7L387.2 443.2L387.7 414.1L388.3 422.4L388.8 453.8L389.2 445.5L389.9 417.9L390.4 420.5L390.9 446.5L391.5 418.2L391.9 445.3L392.3 417.6L392.9 435.2L393.3 418.8L393.9 415.4L394.6 436L395.2 411.6L395.7 436.6L396.2 416.4L396.7 415.1L397.2 408.9L397.7 431.9L398.3 416.7L398.8 433.9L399.4 406.9L399.9 429.2L400.6 412.5L401 436L401.6 412L402 415.4L402.6 432.4L403.3 406.2L403.9 427.8L404.5 404.3L405.1 442.3L405.6 414.1L406.1 431.3L406.5 410.7L407.2 435.2L407.8 408L408.3 432.7L409 399.8L409.5 427L410 408.7L410.4 399L411 422.4L411.7 402.5L412.2 426L412.7 393.4L413.3 435.3L413.8 402.7L414.3 437.3L414.8 393.8L415.5 417.6L416 403.2L416.5 427.5L417.1 386.3L417.8 401.2L418.4 417.2L419 389.6L419.5 416.6L420 390.4L420.5 416.2L421.1 397.3L421.5 425.1L422 397.5L422.6 424.9L423.1 399.4L423.7 396.6L424.4 398L425 409.7L425.6 397.5L426.1 415.9L426.8 389.7L427.3 413.2L427.8 385.4L428.4 379.7L428.9 427.4L429.4 388.4L430.1 409.5L430.8 381L431.4 411.2L431.9 382.7L432.6 406.8L433.3 378.6L433.9 410.4L434.5 386.1L435.1 410L435.7 388.7L436.2 423.8L436.9 385.2L437.4 409.1L438.1 387.4L438.8 406.5L439.4 370.4L439.8 418.9L440.5 368.8L440.9 421.6L441.6 367L442.1 404.1L442.7 387.7L443.2 407.6L443.9 385.5L444.7 407L445.2 374.1L445.7 400.9L446.2 415.4L446.8 374.5L447.3 398.4L447.8 369.9L448.5 399.8L449.2 379.2L449.7 396.7L450.3 380.9L450.8 405.1L451.3 377.4L451.9 413.1L452.4 379.4L452.9 395.5L453.4 375.4L453.8 406.2L454.5 374.3L455 365.6L455.5 402.6L456.3 376.1L457 396.9L457.4 366.3L458.1 391.3L458.8 393.6L459.4 370.6L459.9 388.5L460.6 364.8L461.3 388.3L461.9 356.1L462.5 387L463.1 398.8L463.6 371.3L464.2 386L464.9 369.8L465.5 365.5L466.1 394.9L466.5 368.6L467.1 385.8L467.5 369.8L468 383.5L468.5 356.8L469.2 367.1L469.8 354.8L470.3 379.4L470.8 362.8L471.5 380.1L472.1 362.4L472.8 389.8L473.3 362.6L473.8 376.4L474.5 360L475.2 372.9L475.8 374.5L476.6 352.4L477.2 376.4L477.9 359.4L478.5 382L479.1 355.5L479.9 375.4L480.5 375L481 356.5L481.8 381.5L482.5 358.8L483.2 372.4L483.9 354.1L484.6 366.8L485.1 347.3L485.8 373.9L486.5 354.4L487 375.4L487.8 345.4L488.3 379.9L488.8 351.8L489.4 368.4L490.1 350.7L490.8 366.1L491.3 370.9L492.1 366.6L492.6 363.7L493.2 347.1L493.8 373.5L494.5 334.6L495.1 365.1L495.7 348.7L496.3 368.1L497 348.7L497.6 373.4L498.3 344.3L498.9 343.9L499.7 360.8L500.3 364.2L501.1 356.5L501.6 341.1L502.4 359.8L503 367.7L503.6 342L504.2 337.6L504.8 356.9L505.5 330.8L506.1 355.4L506.8 329.3L507.4 355.2L508.1 342.9L508.9 327.7L509.5 352L510.1 336.2L510.9 364.7L511.5 338.6L512 350.2L512.8 339.8L513.3 365.7L514 336.9L514.6 337L515.3 348.7L516.1 336.8L516.6 350.2L517.1 336.1L518 352L518.7 328.9L519.4 346.3L520.2 333.8L520.8 357.6L521.6 324L522.3 349.2L523.1 358.2L523.9 325.4L524.7 360.8L525.5 326L526.2 349L526.7 319.7L527.5 358.2L528.1 333.5L528.6 351.7L529.2 319.2L529.9 324.2L530.6 351.2L531.4 328.6L532 345.6L532.7 319.6L533.4 346.1L534.2 334.6L534.8 356.6L535.4 328.5L536 352.9L536.7 313.6L537.5 348L538 324L538.7 355.8L539.3 329.8L540 348.9L540.7 319.5L541.3 348.4L542 319.8L542.8 339.8L543.5 313.9L544.1 346.5L544.8 325.2L545.5 349.1L546.2 326.8L547 339.8L547.7 327L548.2 346.9L548.9 320.2L549.4 340.6L550.1 319.4L550.7 339.6L551.6 316.7L552.2 339.8L552.9 323L553.5 334.3L554.1 335.1L554.8 324.4L555.5 312.7L556.3 332.5L557.1 307L557.7 338.3L558.5 344L559.2 306.6L559.9 342.6L560.6 338.4L561.2 309L561.8 334.3L562.6 315L563.4 343.1L564 302.3L564.9 340.6L565.7 313L566.5 339.7L567.2 311.2L567.9 341.5L568.7 316L569.6 333.6L570.1 309L570.8 339.3L571.7 312.1L572.4 333.6L573.1 304.1L573.8 333.7L574.6 301.7L575.3 330.2L575.9 297.2L576.7 333.1L577.3 301.6L578.1 330.9L579 296.8L579.9 334.9L580.6 331.2L581.4 310.9L582 324.3L582.6 295.1L583.3 321.3L584.1 298.9L584.6 326L585.5 297L586.3 317.7L587.1 300.9L587.9 332L588.5 304.5L589.1 327.3L589.8 290.8L590.6 335.1L591.4 295.5L592.1 323L592.8 292.3L593.5 326.4L594.1 305.5L594.7 330.6L595.4 287.4L596.2 317.3L596.9 297.6L597.7 323.6L598.4 288L599.2 309L600.1 289.7L601 287.3L601.7 279L602.5 293.8L603.1 317.6L603.7 323.1L604.4 281.8L605.2 313.5L606 289.9L607 313.6L607.9 287.6L608.5 323.9L609.2 280.7L610 318.6L610.7 276.3L611.5 310.3L612.1 263L612.9 313L613.6 281.4L614.2 322.5L614.9 272.8L615.7 273.1L616.5 317.5L617.2 282.8L618.1 317L618.7 278.5L619.4 277.2L620.3 308.7L621.1 273.1L621.9 308.7L622.6 281.2L623.4 314.7L624.1 286.8L624.7 310.9L625.6 282.9L626.5 305L627.5 275.9L628.1 312.3L629 271.8L629.9 303.7L630.5 284.1L631.4 286.1L632.3 305.9L633.2 273.8L634 309.7L634.8 272.6L635.5 303.4L636.5 268.9L637.1 298L638 272.4L638.6 302L639.4 270.9L640.1 268.2L640.7 271L641.5 303L642.3 275L643 299.7L643.9 267.2L644.8 302L645.5 264.5L646.3 298.7L647 293.4L647.7 274.1L648.7 296.7L649.5 275.3L650.4 296.4L651.3 271.3L652.1 290.1L653.1 268.8L654.1 302.1L655 265.8L655.9 254.7L656.7 296L657.5 267L658.4 292.8L659.2 268.8L659.9 291.9L660.8 275L661.5 290L662.5 258.5L663.3 298.4L664 265.9L664.7 262L665.4 264.4L666.2 291.7L667 275.2L668 280.3L668.6 263.5L669.4 286.8L670.4 291.9L671 266.2L671.9 289.7L672.8 260.9L673.8 289.9L674.6 262.4L675.3 285.6L676.1 256.6L677.1 257L677.8 287.9L678.4 265.1L679.3 282.1L680.1 256.2L680.9 287.5L681.6 256.6L682.3 288L683 261.4L684 277.2L684.7 288.9L685.4 257.7L686.3 284.2L687.2 262L687.9 286.7L688.7 261.5L689.7 283L690.7 283L691.6 251.2L692.5 285.5L693.3 250.4L694.2 273.6L694.9 254.3L695.9 285.6L696.8 258.2L697.5 284.1L698.6 257.2L699.5 284L700.2 249L700.9 278.2L701.9 249.1L702.8 274.3L703.8 255.9L704.5 279L705.2 281.5L705.9 255.7L706.7 282.6L707.4 249.1L708.3 267.5L709 253L710.1 273.3L710.8 247.8L711.5 275.6L712.5 261.2L713.6 272.4L714.6 247.4L715.6 280.8L716.3 246.4L717.1 278.4L718 246.9L718.8 271.4L719.6 272L720.3 246.5L721 269.5L722.1 276L722.9 250L723.9 276.2L724.6 253.4L725.5 269.8L726.5 252.1L727.4 273.4L728.4 245.7L729.1 267.4L730.2 247.1L731.3 270.5L732.2 248.5L733.2 245.3L734 271L735.1 266L736.2 267.1L736.9 253.6L737.8 266.2L738.7 249.5L739.6 261.8L740.4 253.3L741.7 261.5L742.5 252.7L743.4 259.6L744.4 250.9L745.5 261L746.4 258.3L747.6 255.3L748.8 265.1L749.6 251.7L750.7 264.5L751.7 271L752.6 253.8L753.4 261L754.8 270.1L756.1 265L756.9 263.2L757.8 256.4L759 265.6L760 256.7L761.2 255.5L762.4 263.1L763.4 253.5L764.8 264.1L765.8 247.7L766.9 259.9L768.1 256L769.1 259.6L770.3 259.3L771 247.2L772 260.5L772.9 247.9L774 269.8L775.2 250.5L776.3 263.3L777.3 267L778.2 241.8L779.1 271.1L780.2 246.6L781.4 254.7L782.2 237.9L783.3 262.4L784.5 245.8L785.6 268.8L786.7 238.6L787.6 234.2L788.6 253.7L789.3 236.9L790.2 262.1L791.1 231.8L791.9 264L792.9 231.7L793.7 249.8L794.4 239.6L795.2 261.1L796.1 233.8L797 255.2L797.9 235L799 228L800.1 233.6L801.1 257.6L802.1 235.8L802.9 258.3L804 241.5L805.2 257.9L806 231.2L806.8 257.2L807.7 232.1L808.8 258.9L809.7 236.3L810.7 252.2L811.5 235.9L812.3 253.9L813.3 231.2L814.5 253.4L815.6 231.4L816.6 253.7L817.7 232.9L818.6 235.4L819.8 249.4L820.7 239L821.9 244.2L822.6 254.2L823.5 228.8L824.3 252.6L825.2 229.6L826.1 257.3L826.9 233.5L827.7 252.6L828.5 230.8L829.6 254.3L830.5 230.3L831.8 254.7L832.8 237.5L834 234.5L834.9 248.4L835.9 236.8L837 248.7L837.9 228.6L838.7 227.5L839.9 249.6L840.7 248.9L841.6 235.1L842.5 247.9L843.5 226.7L844.5 246.5L845.4 227.7L846.3 246.7L847.1 235.3L848.2 247.3L849.2 236.4L850.2 245.6L851 226.1L852 242.3L853.1 230.6L854.3 247.5L855.2 233L856.1 244.6L857.2 227.8L858.1 229.1L859 254L859.8 225.4L860.7 240.9L861.8 230.5L862.8 247.4L863.9 228.8L865 250.5L865.9 227.9L866.9 248.5L867.7 228.1L868.6 246.3L869.6 222.2L870.6 222.8L871.6 233.4L872.5 220.8L873.5 245.2L874.2 229.6L875.3 239.9L876.5 225.5L877.5 245.5L878.7 217.2L879.5 242.3L880.5 219.5L881.3 244.3L882.5 222.1L883.5 219.3L884.4 246.2L885.3 237.4L886.1 215.6L887.3 240.4L888.1 217.5L888.9 239.3L889.8 209.5L890.8 236.5L891.7 218.3L892.9 203L893.7 239.6L894.8 216.6L895.7 210.4L896.6 231.9L897.9 217.5L899.1 237.6L900 219.4L901.2 228.9L902.4 211.4L903.8 237.9L905.2 217.8L906.9 236.1L909 222.4L910.3 219.8L911.9 240.3L913.8 226.3L915.7 242.5L917.9 231.7L920.6 233.3L924.4 220.8L927.6 218.7L929.5 191.6L930.4 213.3L930.9 232.2L932.5 229L933 234.4L935.7 233.8L937.9 223L940.4 211.6L942.2 221.9L942.9 234.9L946 229.5L947.6 239.2L951.4 233.8L953.6 226.3L955.7 221.9L959.5 210.6L961.1 221.9L964.9 221.9L966.5 198.7L968.2 205.7L969.8 230.6L972 220.8L975.2 216.5L977.4 207.3L978.7 225.2L981.1 211.1L983.3 214.4L985.5 230L988.7 211.1L991.4 231.7L992.2 216.2L993.4 222.2L994.4 212.7L995.6 230.2L996.6 209.4L997.4 222.7L998.4 209.7L999.3 227.1L1000.4 209.1L1001.6 206.2L1002.5 232.6L1003.4 209.7L1004.7 217L1006 210.4L1006.9 225.8L1007.9 207L1008.9 225.8L1010.1 211.3L1011.4 214.9L1012.7 222.2L1013.8 211.1L1015 227.2L1016 215.3L1017.3 222.1L1018.3 220.9L1019.9 204.4L1021.1 218.3L1022.8 209.2L1024.4 218L1026.2 206.7L1027.7 218.9L1029.3 204.4L1031.1 212.2L1032.6 198.8L1034.1 208L1035.3 208.9L1037 207.6L1038.9 217.3L1040.6 212.8L1042.2 216.5L1043.7 211.8L1045.4 221L1046.8 207.9L1048.1 222L1049.4 214.9L1051.1 220.3L1052.4 213.8L1053.8 222L1055.6 203.2L1057 213L1058.7 205.8L1060.4 211.8L1062.1 206.1L1063.9 199.3L1065.2 211.7L1066.7 194.7L1068.4 212.1L1069.6 198.3L1071 209.8L1072.3 197L1074.1 207.9L1075.7 196.2L1077.3 220.1L1078.5 195.5L1079.8 202.8L1081.1 213.3L1082.5 210.6L1084.2 198.4L1085.6 208.6L1087.2 202L1088.8 211.9L1090.7 210.1L1092.4 213.1L1093.9 217.3L1095.3 209.2L1096.7 216.5L1098.1 212.3L1100 223.5L1101.3 214.9L1102.7 215.1L1104.2 212.5L1105.7 201L1107.5 221.2L1108.8 207L1110.1 228.3L1111.9 222.4L1113.2 199.4L1114.5 215.7L1115.9 206.5L1117.4 210.3L1119 199.7L1120.7 205.7L1121.9 211.7L1123.2 196.7L1124.9 217L1126.6 214.3L1127.9 208.7L1129.5 207.3L1131.1 209.7L1132.8 206L1134.5 209L1135.9 210.4L1137.7 203.5L1139 215.4L1140.8 198.1L1142.1 214.3L1143.4 197.6L1145.1 213.3L1146.4 198.8L1148.3 213.1L1149.6 203.1L1151.3 208.3L1152.6 196.7L1154.4 209.9L1155.9 197.6L1157.4 194L1159.3 202.7L1161.2 203.5L1162.8 207.7L1164.7 198.5L1166.6 207.4L1167.8 197.8L1169.4 201.2L1171.3 210.4L1172.7 212.8L1174.5 195.3L1175.7 207L1177.6 193.8L1179.1 204.9L1180.7 190.9L1182.2 207.7L1184 191.9L1185.8 199.2L1187 196.8L1188.3 203.7L1189.9 187.2L1191.8 204.8L1192.9 196.1L1194.7 204.7L1196 195.5L1197.6 199.7L1199.2 189.7L1201.1 199.1L1202.6 188.2L1204.1 199.5L1205.7 193L1207.4 192.6L1208.7 191.3L1209.9 192.9L1211.3 189.4L1213 194.2L1214.1 197.2L1215.8 208.7L1217.3 195.7L1218.7 205.5L1220.6 215.4L1222.5 189.8L1224.1 201.8L1225.4 200.3L1226.8 184.7L1228.5 193.8L1229.9 196.5L1231.7 196.3L1233.1 202.1L1234.7 188.1L1236 202.6L1237.6 194.5L1239 192.6L1240.9 205.8L1242.5 201.4L1244 201.5L1245.2 196.9L1246.4 206L1247.8 195.6L1249.7 203.1L1251.4 191.3L1252.6 197.1L1254.1 191.5L1255.6 194.4L1256.8 179.7L1258.5 194.7L1260.2 187.6L1262 189L1263.9 173.8L1265.5 184.4L1267.2 189.2L1268.7 187L1270.7 185.4L1272.6 197.3L1274.2 193.9L1275.9 196.4L1277.7 202.7L1279.5 199.3L1280.9 194.5L1282.2 197.2L1283.5 204.2L1285.1 195L1286.8 199.7L1288.2 197.8L1290.2 202.2L1291.5 190L1293.3 198.5L1295.2 189.9L1296.9 204.1L1298.2 193.5L1299.8 197.2L1301.6 181.5L1303.1 190.5L1304.9 181L1306.3 192.3L1307.6 185L1308.8 189.8L1310.4 188.7L1311.6 184.8L1313.5 190.3L1315.2 180.1L1316.9 193.2L1318.4 189.6L1319.8 194.8L1321.2 179.7L1323 193.8L1324.5 184.7L1325.8 198.6L1327.7 180.1L1329 195.6L1330.6 186.2L1332.1 190.4L1333.6 195.6L1334.9 198.9L1336.8 204.8L1338.4 185.6L1340.2 197.4L1342.1 186L1343.5 182.4L1345.2 186.5L1346.9 193.4L1348.6 185.9L1350 182.3L1351.7 190L1353.4 180.5L1354.8 192.7L1356.5 190.1L1357.8 193.6L1359.5 184.5L1360.7 186.7L1362.2 192.6L1363.7 189.5L1365.6 191.7L1367 199L1368.9 178.8L1370.9 199.5L1372.2 192.3L1373.8 181L1375.4 190L1376.7 183.1L1378.3 186L1380.2 179.7L1382 186.5L1383.5 178.3L1384.8 188.1L1386.6 179.5L1387.8 180.6L1389.6 177.7L1391.3 185.5L1392.7 176L1394.5 183.3L1396.2 179.8L1397.5 191.1L1399.1 182.5L1400.5 186.6L1401.7 180.6L1403 192.3L1405 177.3L1406.6 189L1408.6 183L1410.4 189.1L1412.3 175.9L1413.6 188.1L1415.1 175.6L1416.5 183.4L1417.8 177.7L1419.3 190.3L1420.8 175.5L1422.5 181.5L1424.4 171.1L1426.1 163.4L1428 186L1429.9 174.7L1431.2 192.2L1433 179.4L1434.6 189.7L1435.8 170.8L1437.3 185.5L1439.1 174.6L1440.8 177.2L1442.4 168.8L1443.8 185.4L1445.3 172.4L1447.1 170.4L1448.7 172.3L1450.4 182L1451.7 181L1453 178.9L1454.3 183.3L1455.9 175.2L1457.2 180L1458.6 179.6L1460.5 183.3L1461.7 174.2L1463.5 173.9L1465.4 183.6L1466.7 177.7L1468.5 173L1469.7 186.2L1471.5 174L1473.3 184.7L1474.8 176.5L1476.2 185.1L1477.5 168.6L1479.4 180.8L1481 164.1L1482.6 170.3L1484.4 162.8L1485.6 170.4L1487.1 162L1488.3 170.7L1490.2 157.5L1491.8 166.9L1493.6 158.3L1495.3 170.7L1496.9 164.4L1498.5 174.8L1499.7 167.7L1501 168.6L1502.8 176.9L1504 166.6L1505.4 171.9L1507.3 174.2L1508.9 169.3L1510.7 167.8L1512.1 176L1513.8 173.6L1515.5 161.2L1516.8 171L1518.7 180.4L1520 182.6L1521.3 173.1L1523.2 170.8L1524.6 172.9L1526.3 163.6L1528 176.9L1529.3 165.6L1530.5 178.5L1532.2 152.4L1533.8 177.9L1535.4 157.5L1537.2 168.2L1538.7 162.8L1540.5 168.6L1541.9 168.1L1543.5 164.9L1545.3 165.4L1547.2 166.3L1548.9 168L1550.4 165.2L1551.9 168.2L1553.7 164.6L1555.4 167.4L1557.2 169.9L1558.8 170.8L1560.3 169.3L1561.9 169.4L1563.3 159L1564.4 157.1L1566.1 173L1567.7 160.9L1569.3 167.1L1571.2 170.4L1573.1 165.3L1574.4 168.3L1576.2 168.1L1577.7 169.2L1579 166.8L1580.6 171.2L1582.4 168.1L1583.9 169L1585.2 169.4L1586.8 165L1588.4 167L1590.1 164.8L1591.7 169L1593.4 156.9L1595.4 166.4L1597.2 162.6L1598.7 169.9L1600.3 163.5L1601.8 163.9L1603.3 166.3L1604.9 164.6L1606.8 168.1L1608.7 164.3L1610.2 168.1L1611.7 161.3L1613.6 173.4L1615.6 157.3L1617.4 170.1L1619.2 165.1L1621 172.4L1622.4 159L1623.6 175.9L1625.1 179.3L1627 163.3L1628.6 173.7L1630.4 162L1631.8 174.7L1633.5 163.4L1634.9 170L1636.4 159.9L1638.4 171L1640 163L1641.7 168.3L1643.4 160.5L1645 161.9L1646.6 151.6L1648.4 177.9L1650.1 157.6L1652 160L1653.9 155.4L1655.3 158.6L1656.5 153.7L1658.4 156.4L1659.9 145.6L1661.2 167.9L1662.9 151L1664.5 162.3L1666.1 142.8L1667.8 153.2L1669.4 164.9L1671.2 153.1L1672.7 161.5L1674.4 161.1L1676.3 157.3L1677.8 156.5L1679.8 164.6L1681.7 163.4L1683.1 152.9L1684.8 164L1686.1 156.7L1687.6 160.1L1689.3 147.4L1691.1 153L1692.4 152.3L1693.8 146.6L1695.3 157.4L1696.8 152.6L1698.1 163.2L1699.4 158.8L1700.6 159.9L1702.3 165.3L1704 152.1L1705.6 158L1707.2 151.5L1708.8 161.4L1710.8 156.4L1712.2 158L1714.1 152.1L1715.4 153.6L1717 151.5L1718.3 154.8L1719.8 152.8L1721.4 159.5L1723.1 165.6L1724.8 156.7L1726.7 157.2L1728.6 158L1730.6 151.9L1732.2 157.5L1733.5 162.5L1734.8 154.4L1736.2 159.7L1738.1 148.6L1739.6 156.8L1740.9 158.5L1742.4 151.7L1744 148.4L1745.5 158.2L1747.3 148.3L1748.8 157L1750.7 155.6L1752.1 160.6L1753.5 147.9L1755.5 157.7L1757.3 146.5L1759.3 158.2" stroke="#ff6384" stroke-width="1.5625"/>
<path d="M137 724H139.5V683.2H148.2V669H154.5V638.8H167V611.5H178.5V585.8H189.2V565.2H211.2V537H264.5V500.2H345V469H436.2V438.2H471.2V412.5H508.2V388.8H550V370.2H689.2V351.5H1049.1V326.8H1381.4V309H1760.2V293" stroke="#36a2eb" stroke-width="1.5625" stroke-linejoin="miter"/>
</g>
<g fill="#666" font-size="18.75">
<text x="895.6" y="32.1" text-anchor="middle" font-weight="bold">belgium-n100-k10 step soft score statistic</text>
<rect x="377.9" y="69.2" width="62.5" height="18.75" fill="rgba(54,162,235,0.5)" stroke="#36a2eb" stroke-width="1.5625"/>
<text x="449.7" y="84.2">Tabu Search</text>
<rect x="570.8" y="69.2" width="62.5" height="18.75" fill="rgba(255,99,132,0.5)" stroke="#ff6384" stroke-width="1.5625"/>
<text x="642.6" y="84.2">Late Acceptance</text>
<rect x="797.9" y="69.2" width="62.5" height="18.75" fill="rgba(255,159,64,0.5)" stroke="#ff9f40" stroke-width="1.5625"/>
<text x="869.7" y="84.2">Tabu Search Nearby</text>
<rect x="1056.3" y="69.2" width="62.5" height="18.75" fill="rgba(255,205,86,0.5)" stroke="#ffcd56" stroke-width="6.25"/>
<text x="1128.5" y="84.2">Late Acceptance Nearby (favorite)</text>
<text x="103.2" y="741.9" text-anchor="end">-50 000</text>
<text x="103.2" y="689.1" text-anchor="end">-48 000</text>
<text x="103.2" y="636.4" text-anchor="end">-46 000</text>
<text x="103.2" y="583.6" text-anchor="end">-44 000</text>
<text x="103.2" y="530.9" text-anchor="end">-42 000</text>
<text x="103.2" y="478.1" text-anchor="end">-40 000</text>
<text x="103.2" y="425.4" text-anchor="end">-38 000</text>
<text x="103.2" y="372.7" text-anchor="end">-36 000</text>
<text x="103.2" y="319.9" text-anchor="end">-34 000</text>
<text x="103.2" y="267.2" text-anchor="end">-32 000</text>
<text x="103.2" y="214.4" text-anchor="end">-30 000</text>
<text x="103.2" y="161.7" text-anchor="end">-28 000</text>
<text x="103.2" y="109" text-anchor="end">-26 000</text>
<text transform="translate(175.3,761.2) rotate(-50)" text-anchor="end" x="0" y="5.3">2s</text>
<text transform="translate(230,761.2) rotate(-50)" text-anchor="end" x="0" y="5.3">4s</text>
<text transform="translate(284.6,761.2) rotate(-50)" text-anchor="end" x="0" y="5.3">6s</text>
<text transform="translate(339.2,761.2) rotate(-50)" text-anchor="end" x="0" y="5.3">8s</text>
<text transform="translate(393.9,761.2) rotate(-50)" text-anchor="end" x="0" y="5.3">10s</text>
<text transform="translate(448.5,761.2) rotate(-50)" text-anchor="end" x="0" y="5.3">12s</text>
<text transform="translate(503.2,761.2) rotate(-50)" text-anchor="end" x="0" y="5.3">14s</text>
<text transform="translate(557.8,761.2) rotate(-50)" text-anchor="end" x="0" y="5.3">16s</text>
<text transform="translate(612.4,761.2) rotate(-50)" text-anchor="end" x="0" y="5.3">18s</text>
<text transform="translate(667.1,761.2) rotate(-50)" text-anchor="end" x="0" y="5.3">20s</text>
<text transform="translate(721.7,761.2) rotate(-50)" text-anchor="end" x="0" y="5.3">22s</text>
<text transform="translate(776.4,761.2) rotate(-50)" text-anchor="end" x="0" y="5.3">24s</text>
<text transform="translate(831,761.2) rotate(-50)" text-anchor="end" x="0" y="5.3">26s</text>
<text transform="translate(885.6,761.2) rotate(-50)" text-anchor="end" x="0" y="5.3">28s</text>
<text transform="translate(940.3,761.2) rotate(-50)" text-anchor="end" x="0" y="5.3">30s</text>
<text transform="translate(994.9,761.2) rotate(-50)" text-anchor="end" x="0" y="5.3">32s</text>
<text transform="translate(1049.6,761.2) rotate(-50)" text-anchor="end" x="0" y="5.3">34s</text>
<text transform="translate(1104.2,761.2) rotate(-50)" text-anchor="end" x="0" y="5.3">36s</text>
<text transform="translate(1158.8,761.2) rotate(-50)" text-anchor="end" x="0" y="5.3">38s</text>
<text transform="translate(1213.5,761.2) rotate(-50)" text-anchor="end" x="0" y="5.3">40s</text>
<text transform="translate(1268.1,761.2) rotate(-50)" text-anchor="end" x="0" y="5.3">42s</text>
<text transform="translate(1322.8,761.2) rotate(-50)" text-anchor="end" x="0" y="5.3">44s</text>
<text transform="translate(1377.4,761.2) rotate(-50)" text-anchor="end" x="0" y="5.3">46s</text>
<text transform="translate(1432,761.2) rotate(-50)" text-anchor="end" x="0" y="5.3">48s</text>
<text transform="translate(1486.7,761.2) rotate(-50)" text-anchor="end" x="0" y="5.3">50s</text>
<text transform="translate(1541.3,761.2) rotate(-50)" text-anchor="end" x="0" y="5.3">52s</text>
<text transform="translate(1596,761.2) rotate(-50)" text-anchor="end" x="0" y="5.3">54s</text>
<text transform="translate(1650.6,761.2) rotate(-50)" text-anchor="end" x="0" y="5.3">56s</text>
<text transform="translate(1705.2,761.2) rotate(-50)" text-anchor="end" x="0" y="5.3">58s</text>
<text transform="translate(1759.9,761.2) rotate(-50)" text-anchor="end" x="0" y="5.3">1m</text>
<text x="954.2" y="818.9" text-anchor="middle">Time spent</text>
<text transform="translate(22.9,420.2) rotate(-90)" text-anchor="middle">Step soft score</text>
</g>
</svg>
</body></html>
